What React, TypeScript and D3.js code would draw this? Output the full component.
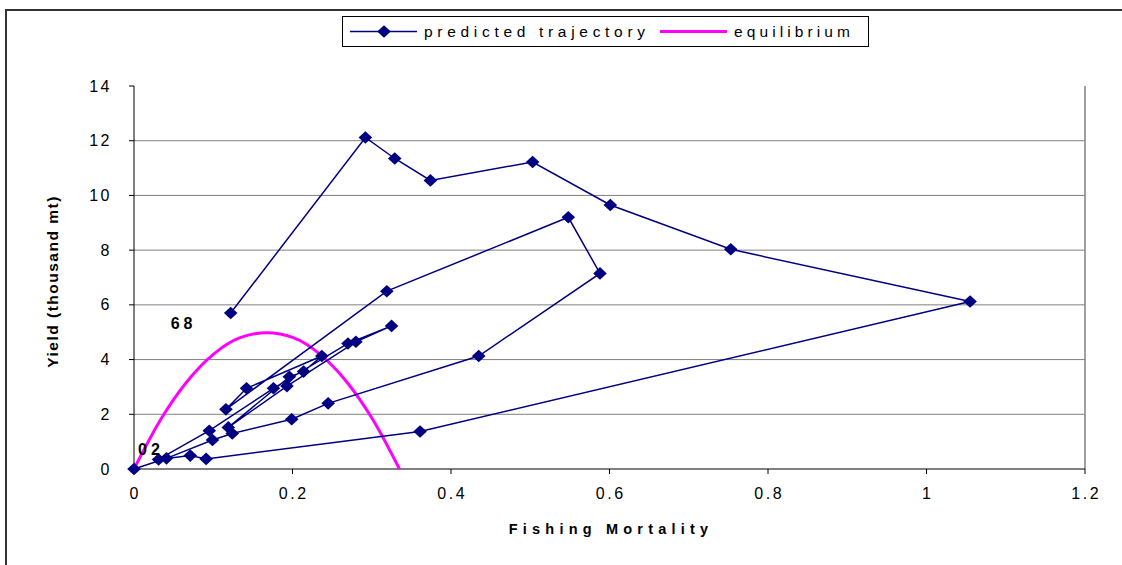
import React from 'react';
import * as d3 from 'd3';

// predicted trajectory (fishing mortality, yield in thousand mt), in time order 1968 -> 2002
const trajF = [0.122, 0.292, 0.329, 0.374, 0.503, 0.601, 0.753, 1.055, 0.361, 0.091, 0.071, 0.031,
  0.095, 0.176, 0.270, 0.325, 0.280, 0.193, 0.119, 0.196, 0.214, 0.237, 0.142, 0.116, 0.319,
  0.548, 0.588, 0.435, 0.245, 0.199, 0.124, 0.099, 0.041, 0.0];
const trajY = [5.70, 12.12, 11.35, 10.55, 11.22, 9.65, 8.03, 6.12, 1.37, 0.37, 0.49, 0.35,
  1.40, 2.95, 4.59, 5.23, 4.65, 3.03, 1.52, 3.37, 3.56, 4.13, 2.95, 2.18, 6.50,
  9.20, 7.15, 4.13, 2.40, 1.82, 1.30, 1.06, 0.39, 0.0];

// equilibrium curve
const eqF = [0, 0.0335, 0.067, 0.1005, 0.134, 0.1675, 0.201, 0.2345, 0.268, 0.3015, 0.335];
const eqY = [0, 1.8, 3.2, 4.2, 4.8, 4.98, 4.8, 4.2, 3.2, 1.8, 0];

const xTicks = [0, 0.2, 0.4, 0.6, 0.8, 1, 1.2];
const xTickLabels = ['0', '0.2', '0.4', '0.6', '0.8', '1', '1.2'];
const yTicks = [0, 2, 4, 6, 8, 10, 12, 14];
const yTickLabels = ['0', '2', '4', '6', '8', '10', '12', '14'];
const seriesNames = ['predicted trajectory', 'equilibrium'];
const startLabel = '68';
const endLabel = '02';
const xTitle = 'Fishing Mortality';
const yTitle = 'Yield (thousand mt)';

const NAVY = '#000080';
const PINK = '#FF00FF';
const FONT = '"Liberation Sans", Arial, Helvetica, sans-serif';

function Diamond({ cx, cy }: { cx: number; cy: number }) {
  const w = 6.8, h = 6.3;
  return <path d={`M${cx},${cy - h}L${cx + w},${cy}L${cx},${cy + h}L${cx - w},${cy}Z`} fill={NAVY} />;
}

export default function App() {
  const W = 1122, H = 565;
  const x = d3.scaleLinear().domain([0, 1.2]).range([134, 1085]);
  const y = d3.scaleLinear().domain([0, 14]).range([469, 86]);

  const traj = trajF.map((f, i) => [f, trajY[i]] as [number, number]);
  const eq = eqF.map((f, i) => [f, eqY[i]] as [number, number]);
  const line = d3.line<[number, number]>().x(d => x(d[0])).y(d => y(d[1]));
  const curve = d3.line<[number, number]>().x(d => x(d[0])).y(d => y(d[1])).curve(d3.curveMonotoneX);

  const first = traj[0];
  const last = traj[traj.length - 1];

  return (
    <svg width={W} height={H} style={{ position: 'absolute', left: 0, top: 0, background: '#fff' }}
      fontFamily={FONT}>
      <rect x={0} y={0} width={W} height={H} fill="#fff" />
      {/* chart border */}
      <rect x={6} y={10} width={1200} height={700} fill="none" stroke="#333" strokeWidth={2} />

      {/* gridlines */}
      {yTicks.filter(t => t > 0 && t < 14).map(t => (
        <line key={t} x1={x(0)} x2={x(1.2)} y1={y(t)} y2={y(t)} stroke="#808080" strokeWidth={1} />
      ))}
      <line x1={x(1.2)} x2={x(1.2)} y1={y(14)} y2={y(0)} stroke="#808080" strokeWidth={1.5} />

      {/* axes */}
      <line x1={x(0)} x2={x(0)} y1={y(14)} y2={y(0)} stroke="#000" strokeWidth={1} />
      <line x1={x(0)} x2={x(1.2)} y1={y(0)} y2={y(0)} stroke="#000" strokeWidth={1} />
      {yTicks.map(t => (
        <line key={'yt' + t} x1={x(0) - 5} x2={x(0)} y1={y(t)} y2={y(t)} stroke="#000" />
      ))}
      {xTicks.map(t => (
        <line key={'xt' + t} x1={x(t)} x2={x(t)} y1={y(0)} y2={y(0) + 5} stroke="#000" />
      ))}
      {yTicks.map((t, i) => (
        <text key={'yl' + t} x={112} y={y(t) + 5.5} textAnchor="end" fontSize={16} letterSpacing={2.5}>{yTickLabels[i]}</text>
      ))}
      {xTicks.map((t, i) => (
        <text key={'xl' + t} x={x(t) + 1.2} y={499} textAnchor="middle" fontSize={16} letterSpacing={2.5}>{xTickLabels[i]}</text>
      ))}

      {/* titles */}
      <text x={611} y={534} textAnchor="middle" fontSize={14.5} fontWeight="bold" letterSpacing={5.2}>{xTitle}</text>
      <text transform={`translate(58,${(86 + 469) / 2 + 4}) rotate(-90)`} textAnchor="middle" fontSize={15.5}
        fontWeight="bold" letterSpacing={1.5}>{yTitle}</text>

      {/* equilibrium */}
      <path d={curve(eq) || ''} fill="none" stroke={PINK} strokeWidth={3} />

      {/* trajectory */}
      <path d={line(traj) || ''} fill="none" stroke={NAVY} strokeWidth={1.5} />
      {traj.map((d, i) => <Diamond key={i} cx={x(d[0])} cy={y(d[1])} />)}

      {/* year labels */}
      <text x={x(first[0]) - 60} y={y(first[1]) + 16} fontSize={16} fontWeight="bold" letterSpacing={4}>{startLabel}</text>
      <text x={x(last[0]) + 4} y={y(last[1]) - 14} fontSize={16} fontWeight="bold" letterSpacing={4}>{endLabel}</text>

      {/* legend */}
      <rect x={342.5} y={16.5} width={526} height={30} fill="#fff" stroke="#000" strokeWidth={1} />
      <line x1={350} x2={417} y1={31.5} y2={31.5} stroke={NAVY} strokeWidth={1.5} />
      <Diamond cx={384} cy={31.5} />
      <text x={424} y={37} fontSize={15.5} textLength={221} lengthAdjust="spacing">{seriesNames[0]}</text>
      <line x1={660} x2={727} y1={31.5} y2={31.5} stroke={PINK} strokeWidth={3} />
      <text x={734} y={37} fontSize={15.5} textLength={116} lengthAdjust="spacing">{seriesNames[1]}</text>
    </svg>
  );
}
